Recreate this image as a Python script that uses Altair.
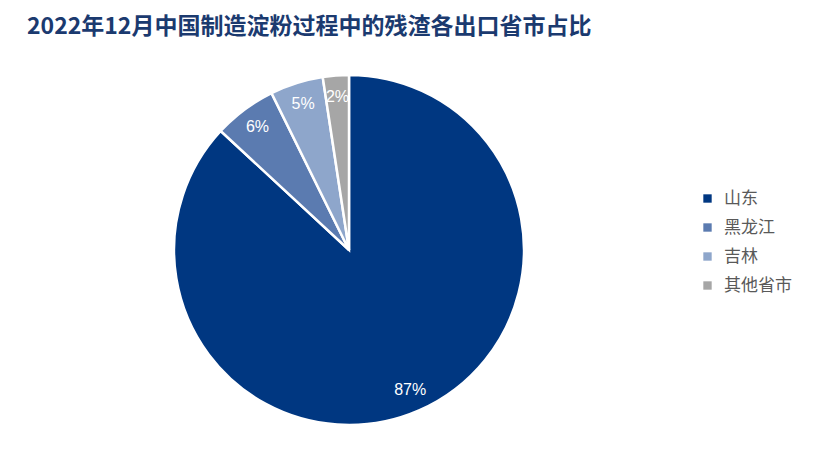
import altair as alt
import pandas as pd

title_text = "2022年12月中国制造淀粉过程中的残渣各出口省市占比"
provinces = ["山东", "黑龙江", "吉林", "其他省市"]
shares = [86.9, 5.8, 4.9, 2.4]
labels = ["87%", "6%", "5%", "2%"]
colors = ["#003781", "#5b7bb0", "#8ea6cb", "#a6a6a6"]

df = pd.DataFrame({"省市": provinces, "占比": shares, "标签": labels, "idx": list(range(len(provinces)))})

cx, cy = 341, 242

base = alt.Chart(df).encode(
    theta=alt.Theta("占比:Q", stack=True),
    order=alt.Order("idx:Q", sort="ascending"),
)

arcs = base.mark_arc(outerRadius=175, stroke="white", strokeWidth=2.5).encode(
    x=alt.value(cx),
    y=alt.value(cy),
    color=alt.Color(
        "省市:N",
        scale=alt.Scale(domain=provinces, range=colors),
        sort=provinces,
        legend=alt.Legend(
            title=None,
            orient="none",
            legendX=691,
            legendY=182,
            symbolType="square",
            symbolSize=70,
            symbolStrokeWidth=0,
            labelFont="Noto Sans CJK SC",
            labelFontSize=17,
            labelColor="#595959",
            rowPadding=11,
            labelOffset=8,
        ),
    ),
)

texts = base.mark_text(radius=153, fontSize=16, font="Liberation Sans", color="white").encode(
    x=alt.value(cx),
    y=alt.value(cy),
    text="标签:N",
)

title = alt.Chart(pd.DataFrame({"t": [title_text]})).mark_text(
    align="left", baseline="alphabetic", fontSize=23, fontWeight="bold",
    font="Noto Sans CJK SC", color="#1b3a6f"
).encode(x=alt.value(19), y=alt.value(26), text="t:N")

chart = alt.layer(arcs, texts, title).properties(
    width=800, height=435, padding=0, autosize=alt.AutoSizeParams(type="none")
).configure_view(stroke=None)

chart.save("out.html", embed_options={"renderer": "svg", "actions": False})
